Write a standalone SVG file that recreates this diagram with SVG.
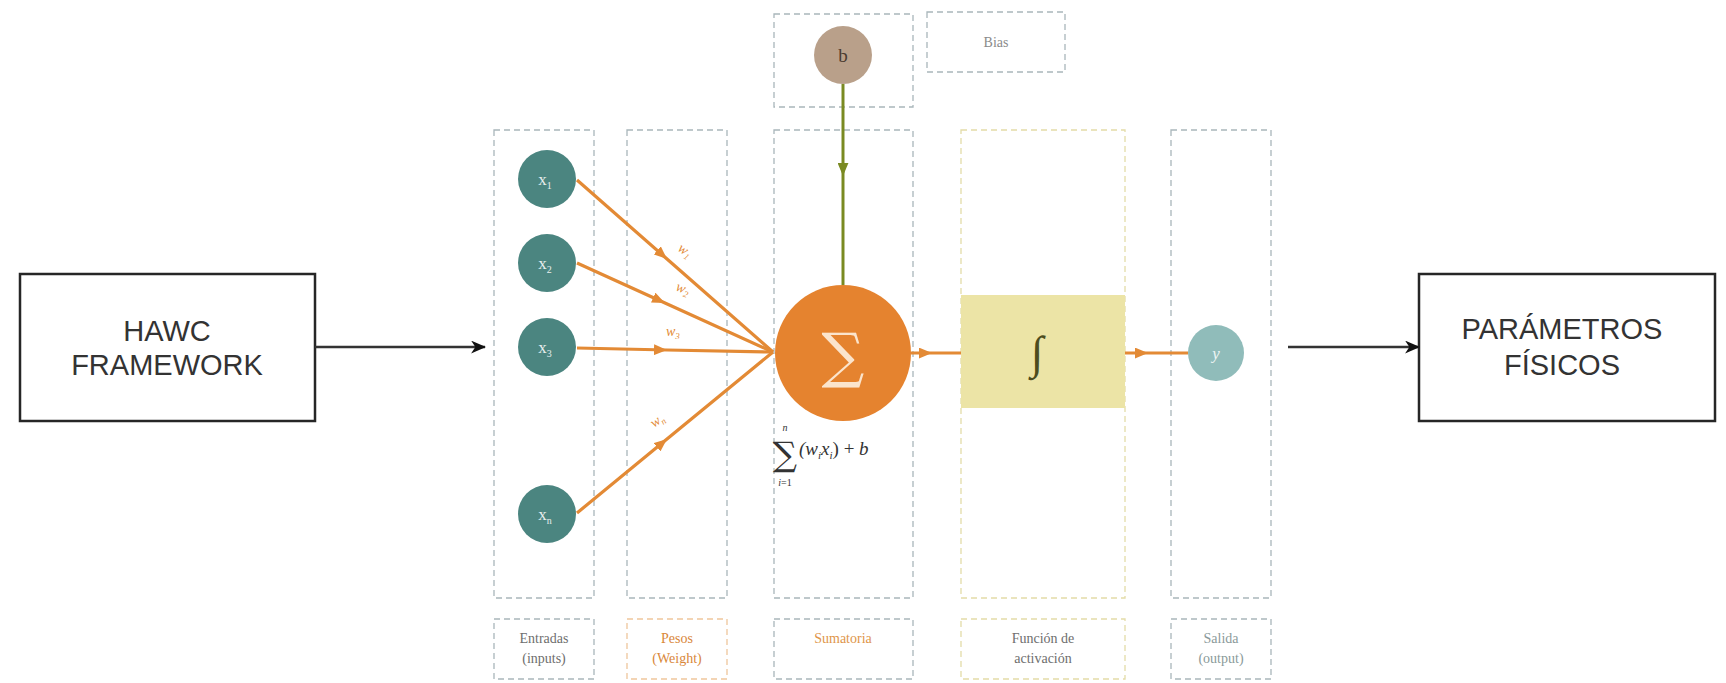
<svg xmlns="http://www.w3.org/2000/svg" width="1726" height="683" viewBox="0 0 1726 683">
<style>
.col{fill:none;stroke:#a9b6bb;stroke-width:1.3;stroke-dasharray:6 4}
.coly{fill:none;stroke:#e3dca8;stroke-width:1.3;stroke-dasharray:6 4}
.colo{fill:none;stroke:#efc69c;stroke-width:1.3;stroke-dasharray:6 4}
.box{fill:#fff;stroke:#262626;stroke-width:2.5}
.big{font-family:"Liberation Sans",Arial,sans-serif;font-size:29px;fill:#333;text-anchor:middle}
.lbl{font-family:"Liberation Serif","Times New Roman",serif;font-size:14px;text-anchor:middle}
.inp{fill:#4b8580}
.ctext{font-family:"Liberation Serif","Times New Roman",serif;font-size:17px;fill:#e8efee;text-anchor:middle}
.w{stroke:#e38a35;stroke-width:3.2;fill:none}
.wl{font-family:"Liberation Serif","Times New Roman",serif;font-style:italic;font-size:14px;fill:#e38a35}
</style>
<defs>
<marker id="oa" viewBox="0 0 12 10" refX="12" refY="5" markerWidth="13" markerHeight="11" markerUnits="userSpaceOnUse" orient="auto"><path d="M0,0 L12,5 L0,10 Z" fill="#e38a35"/></marker>
<marker id="ga" viewBox="0 0 12 10" refX="12" refY="5" markerWidth="13" markerHeight="11" markerUnits="userSpaceOnUse" orient="auto"><path d="M0,0 L12,5 L0,10 Z" fill="#7a8a22"/></marker>
<marker id="ka" viewBox="0 0 14 12" refX="13" refY="6" markerWidth="15" markerHeight="13" markerUnits="userSpaceOnUse" orient="auto"><path d="M0,0 L14,6 L0,12 L4,6 Z" fill="#111"/></marker>
</defs>

<g id="columns">
<rect class="col" x="494" y="130" width="100" height="468"/>
<rect class="col" x="627" y="130" width="100" height="468"/>
<rect class="col" x="774" y="130" width="139" height="468"/>
<rect class="coly" x="961" y="130" width="164" height="468"/>
<rect class="col" x="1171" y="130" width="100" height="468"/>
</g>

<g id="hawc">
<rect class="box" x="20" y="274" width="295" height="147"/>
<text class="big" x="167" y="341">HAWC</text>
<text class="big" x="167" y="375">FRAMEWORK</text>
</g>

<g id="parametros">
<rect class="box" x="1419" y="274" width="296" height="147"/>
<text class="big" x="1562" y="339">PARÁMETROS</text>
<text class="big" x="1562" y="375">FÍSICOS</text>
</g>

<g id="bias-box">
<rect class="col" x="774" y="14" width="139" height="93"/>
</g>
<g id="bias-label">
<rect class="col" x="927" y="12" width="138" height="60"/>
<text class="lbl" x="996" y="47" fill="#8a8a8a">Bias</text>
</g>

<g id="activation-fill">
<rect x="961" y="295" width="164" height="113" fill="#ece4a6"/>
<text x="1037" y="368" font-family="'Liberation Serif',serif" font-size="46" fill="#4d4d1e" text-anchor="middle">∫</text>
</g>

<g id="connectors">
<line x1="315" y1="347" x2="485" y2="347" stroke="#333" stroke-width="2.5" marker-end="url(#ka)"/>
<line x1="1288" y1="347" x2="1419" y2="347" stroke="#333" stroke-width="2.5" marker-end="url(#ka)"/>
<polyline class="w" points="577,180 667,259 773,352" marker-mid="url(#oa)"/>
<polyline class="w" points="577,263 665,303 773,352" marker-mid="url(#oa)"/>
<polyline class="w" points="577,348 667,350 773,352" marker-mid="url(#oa)"/>
<polyline class="w" points="577,513 667,439 773,352" marker-mid="url(#oa)"/>
<polyline class="w" points="911,353 932,353 961,353" marker-mid="url(#oa)"/>
<polyline class="w" points="1125,353 1148,353 1188,353" marker-mid="url(#oa)"/>
<polyline points="843,84 843,176 843,285" stroke="#7a8a22" stroke-width="3" fill="none" marker-mid="url(#ga)"/>
<text class="wl" transform="translate(677,250) rotate(35)">w<tspan font-size="9" dy="3">1</tspan></text>
<text class="wl" transform="translate(675,290) rotate(22)">w<tspan font-size="9" dy="3">2</tspan></text>
<text class="wl" transform="translate(666,336)">w<tspan font-size="9" dy="3">3</tspan></text>
<text class="wl" transform="translate(654,428) rotate(-35)">w<tspan font-size="9" dy="3">n</tspan></text>
</g>

<g id="x1"><circle class="inp" cx="547" cy="179" r="29"/><text class="ctext" x="545" y="185">x<tspan font-size="10" dy="4">1</tspan></text></g>
<g id="x2"><circle class="inp" cx="547" cy="263" r="29"/><text class="ctext" x="545" y="269">x<tspan font-size="10" dy="4">2</tspan></text></g>
<g id="x3"><circle class="inp" cx="547" cy="347" r="29"/><text class="ctext" x="545" y="353">x<tspan font-size="10" dy="4">3</tspan></text></g>
<g id="xn"><circle class="inp" cx="547" cy="514" r="29"/><text class="ctext" x="545" y="520">x<tspan font-size="10" dy="4">n</tspan></text></g>

<g id="b"><circle cx="843" cy="55" r="29" fill="#b9a08a"/><text x="843" y="62" font-family="'Liberation Serif',serif" font-size="19" fill="#4a3b30" text-anchor="middle">b</text></g>

<g id="sum">
<circle cx="843" cy="353" r="68" fill="#e5832f"/>
<text x="843" y="376" font-family="'DejaVu Serif',serif" font-size="60" fill="#fbe4cc" text-anchor="middle">∑</text>
<g font-family="'Liberation Serif','Times New Roman',serif" fill="#333">
<text x="785" y="466" font-size="34" text-anchor="middle" font-family="'DejaVu Serif',serif">∑</text>
<text x="785" y="431" font-size="10" text-anchor="middle" font-style="italic">n</text>
<text x="785" y="486" font-size="10" text-anchor="middle"><tspan font-style="italic">i</tspan>=1</text>
<text x="799" y="455" font-size="19" font-style="italic">(w<tspan font-size="11" dy="4">i</tspan><tspan dy="-4">x</tspan><tspan font-size="11" dy="4">i</tspan><tspan dy="-4" font-style="normal">) + </tspan>b</text>
</g>
</g>

<g id="y"><circle cx="1216" cy="353" r="28" fill="#90bcba"/><text x="1216" y="359" font-family="'Liberation Serif',serif" font-style="italic" font-size="17" fill="#eef5f4" text-anchor="middle">y</text></g>

<g id="label-entradas"><rect class="col" x="494" y="619" width="100" height="60"/><text class="lbl" fill="#6e6e6e" x="544" y="643">Entradas</text><text class="lbl" fill="#6e6e6e" x="544" y="663">(inputs)</text></g>
<g id="label-pesos"><rect class="colo" x="627" y="619" width="100" height="60"/><text class="lbl" fill="#d9873a" x="677" y="643">Pesos</text><text class="lbl" fill="#d9873a" x="677" y="663">(Weight)</text></g>
<g id="label-sumatoria"><rect class="col" x="774" y="619" width="139" height="60"/><text class="lbl" fill="#e0954a" x="843" y="643">Sumatoria</text></g>
<g id="label-activacion"><rect class="coly" x="961" y="619" width="164" height="60"/><text class="lbl" fill="#6e6e6e" x="1043" y="643">Función de</text><text class="lbl" fill="#6e6e6e" x="1043" y="663">activación</text></g>
<g id="label-salida"><rect class="col" x="1171" y="619" width="100" height="60"/><text class="lbl" fill="#8a9a9a" x="1221" y="643">Salida</text><text class="lbl" fill="#8a9a9a" x="1221" y="663">(output)</text></g>
</svg>
